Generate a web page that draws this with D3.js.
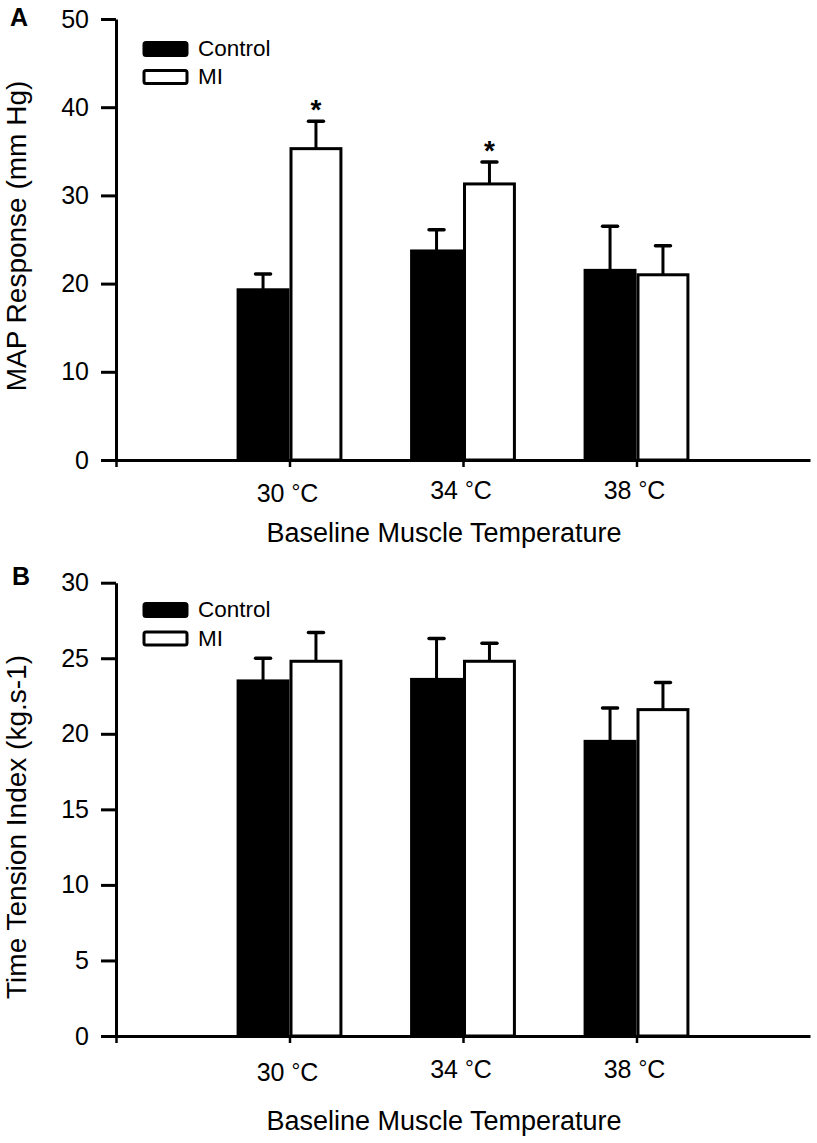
<!DOCTYPE html>
<html><head><meta charset="utf-8">
<script src="https://cdn.jsdelivr.net/npm/d3@7"></script>
<style>
body{margin:0;background:#fff}
text{font-family:"Liberation Sans",Arial,Helvetica,sans-serif;fill:#000}
</style>
</head><body>
<svg id="c" width="817" height="1143"></svg>
<script>
// ---- data ----
const categories = ["30", "34", "38"];
const seriesNames = ["Control", "MI"];
const mapControl = [19.3, 23.7, 21.5];
const mapControlSem = [1.8, 2.4, 5.0];
const mapMI = [35.3, 31.3, 21.0];
const mapMISem = [3.1, 2.5, 3.3];
const mapSignificant = [true, true, false];
const mapTicks = [0, 10, 20, 30, 40, 50];
const ttiControl = [23.5, 23.6, 19.5];
const ttiControlSem = [1.5, 2.7, 2.2];
const ttiMI = [24.8, 24.8, 21.6];
const ttiMISem = [1.9, 1.2, 1.8];
const ttiSignificant = [false, false, false];
const ttiTicks = [0, 5, 10, 15, 20, 25, 30];
const xTitle = "Baseline Muscle Temperature";

const svg = d3.select("#c");
const x = d3.scaleLinear().domain([0, 4]).range([116, 810]);
const half = 0.305;

function panel(cfg) {
  const g = svg.append("g");
  const y = d3.scaleLinear().domain([0, cfg.max]).range([cfg.y0, cfg.yTop]);

  // panel letter
  g.append("text").attr("x", cfg.letterX).attr("y", cfg.letterY)
    .attr("font-size", 25).attr("font-weight", "bold").text(cfg.letter);

  // y axis
  const ya = g.append("g").attr("transform", `translate(${x(0)},0)`)
    .call(d3.axisLeft(y).tickValues(cfg.ticks).tickSize(15).tickPadding(12).tickSizeOuter(0));
  ya.select(".domain").attr("stroke-width", 3);
  ya.selectAll(".tick line").attr("stroke-width", 3);
  ya.selectAll(".tick text").attr("font-size", 25).attr("font-family", null);

  // x axis
  const xa = g.append("g").attr("transform", `translate(0,${cfg.y0})`)
    .call(d3.axisBottom(x).tickValues([0, 1, 2, 3]).tickSize(7).tickSizeOuter(0).tickFormat(""));
  xa.select(".domain").attr("stroke-width", 3);
  xa.selectAll(".tick line").attr("stroke-width", 2.5);

  categories.forEach((c, i) => {
    const t = g.append("text").attr("x", x(i + 1) - 2).attr("y", cfg.y0 + cfg.tickLabOff - (i > 0 ? 3 : 0))
      .attr("font-size", 25).attr("text-anchor", "middle");
    t.append("tspan").text(c + " ");
    t.append("tspan").attr("font-size", 22).attr("dy", -2).text("\u00B0");
    t.append("tspan").attr("dy", 2).text("C");
  });

  g.append("text").attr("x", 444).attr("y", cfg.y0 + cfg.titleOff)
    .attr("font-size", 27).attr("text-anchor", "middle").text(xTitle);

  // y label
  g.append("text").attr("transform", `translate(${cfg.yLabX},${cfg.yLabY}) rotate(-90)`)
    .attr("font-size", 28).attr("text-anchor", "middle").text(cfg.yLabel);

  // bars
  const rows = [];
  categories.forEach((c, i) => {
    rows.push({i, s: 0, v: cfg.control[i], e: cfg.controlSem[i]});
    rows.push({i, s: 1, v: cfg.mi[i], e: cfg.miSem[i]});
  });
  const bx = d => d.s === 0 ? x(d.i + 1 - half) : x(d.i + 1);
  const bw = x(half) - x(0);

  // error bars
  const eb = g.append("g");
  eb.selectAll("line.v").data(rows).join("line")
    .attr("x1", d => bx(d) + bw / 2).attr("x2", d => bx(d) + bw / 2)
    .attr("y1", d => y(d.v)).attr("y2", d => y(d.v + d.e))
    .attr("stroke", "#000").attr("stroke-width", 3);
  eb.selectAll("line.c").data(rows).join("line")
    .attr("x1", d => bx(d) + bw / 2 - 7.5).attr("x2", d => bx(d) + bw / 2 + 7.5)
    .attr("y1", d => y(d.v + d.e)).attr("y2", d => y(d.v + d.e))
    .attr("stroke", "#000").attr("stroke-width", 3.5).attr("stroke-linecap", "round");

  g.append("g").selectAll("rect").data(rows).join("rect")
    .attr("x", d => bx(d) + 1.5).attr("width", bw - 3)
    .attr("y", d => y(d.v)).attr("height", d => y(0) - y(d.v))
    .attr("fill", d => d.s === 0 ? "#000" : "#fff")
    .attr("stroke", "#000").attr("stroke-width", 3);

  // significance
  rows.filter(d => d.s === 1 && cfg.sig[d.i]).forEach(d => {
    g.append("text").attr("x", bx(d) + bw / 2).attr("y", y(d.v + d.e) - 2)
      .attr("font-size", 28).attr("font-weight", "bold").attr("text-anchor", "middle").text("*");
  });

  // legend
  seriesNames.forEach((n, k) => {
    const ly = cfg.legTop + k * cfg.legStep;
    g.append("rect").attr("x", 144).attr("y", ly).attr("width", 43).attr("height", 13).attr("rx", 2)
      .attr("fill", k === 0 ? "#000" : "#fff").attr("stroke", "#000").attr("stroke-width", 3);
    g.append("text").attr("x", 198).attr("y", ly + 13.5).attr("font-size", 22.5).text(n);
  });
}

panel({letter: "A", letterX: 10, letterY: 26, y0: 460, yTop: 19, max: 50, ticks: mapTicks,
  control: mapControl, controlSem: mapControlSem, mi: mapMI, miSem: mapMISem, sig: mapSignificant,
  yLabel: "MAP Response (mm Hg)", yLabX: 26, yLabY: 236, tickLabOff: 42, titleOff: 82,
  legTop: 42.5, legStep: 28});

panel({letter: "B", letterX: 12, letterY: 585, y0: 1036, yTop: 582.7, max: 30, ticks: ttiTicks,
  control: ttiControl, controlSem: ttiControlSem, mi: ttiMI, miSem: ttiMISem, sig: ttiSignificant,
  yLabel: "Time Tension Index (kg.s-1)", yLabX: 26, yLabY: 827, tickLabOff: 45, titleOff: 94,
  legTop: 603.5, legStep: 28.5});
</script>
</body></html>
